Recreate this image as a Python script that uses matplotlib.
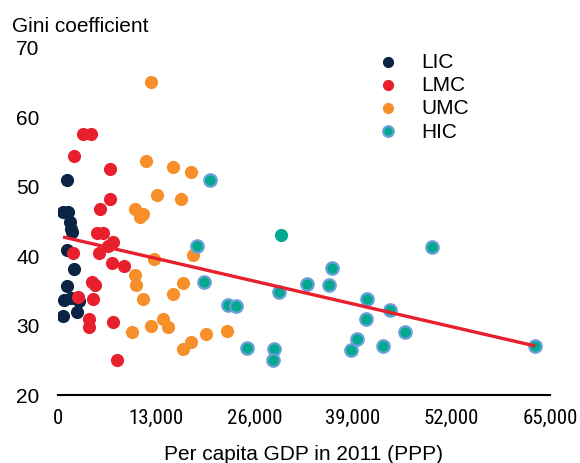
import matplotlib
matplotlib.use("Agg")
import matplotlib.pyplot as plt
from matplotlib import font_manager as fm
import numpy as np

# === DATA ===
lic_gdp = [1290, 730, 1390, 1650, 1780, 1910, 1210, 2180, 1290, 860, 1780, 2880, 2530, 770]
lic_gini = [50.8, 46.3, 46.3, 44.8, 43.8, 43.4, 40.8, 38.1, 35.6, 33.6, 33.9, 33.5, 31.9, 31.3]

lmc_gdp = [3400, 4380, 2180, 6930, 6930, 5610, 5170, 6050, 7360, 6700, 5520, 2090,
           7150, 8780, 4510, 4950, 2750, 4730, 4200, 4200, 7290, 7810]
lmc_gini = [57.5, 57.5, 54.3, 52.4, 48.1, 46.7, 43.2, 43.2, 41.9, 41.3, 40.3, 40.4,
            38.9, 38.5, 36.2, 35.7, 34.0, 33.7, 30.9, 29.7, 30.5, 25.0]

umc_gdp = [12300, 11680, 15200, 17580, 13170, 16300, 10230, 10950, 11350, 17920, 12780,
           10230, 10360, 16600, 15200, 11250, 13960, 14620, 12300, 9830, 19600, 22410,
           17580, 16600]
umc_gini = [65.0, 53.6, 52.7, 52.0, 48.7, 48.2, 46.7, 45.5, 45.9, 40.1, 39.5,
            37.2, 35.8, 36.0, 34.4, 33.8, 30.9, 29.7, 29.8, 29.0, 28.7, 29.1,
            27.5, 26.6]

hic_gdp = [20130, 18410, 19340, 22460, 23600, 25050, 28610, 28480, 29190, 32970,
           35790, 36230, 40810, 40680, 39490, 38780, 43880, 43000, 45900, 49430, 63060]
hic_gini = [50.9, 41.4, 36.2, 32.9, 32.8, 26.7, 26.6, 25.0, 34.8, 35.9,
            35.7, 38.2, 33.8, 30.8, 28.0, 26.4, 32.2, 27.0, 29.0, 41.2, 27.0]
# one high-income point drawn without the blue rim
hic_plain_gdp = [29500]
hic_plain_gini = [42.9]

trend_intercept = 42.85
trend_slope = -2.517e-4

x_ticks = [0, 13000, 26000, 39000, 52000, 65000]
y_ticks = [20, 30, 40, 50, 60, 70]

# === STYLE ===
navy = "#0b2444"
red = "#e8202e"
orange = "#f7902a"
teal = "#00a88f"
rim = "#6a9fd8"
font = "Liberation Sans"

plt.rcParams["font.family"] = [font, "DejaVu Sans"]


def pick_narrow():
    # the x tick labels in the original use a narrow face
    entries = fm.fontManager.ttflist
    names = {f.name for f in entries}
    for n in ["Liberation Sans Narrow", "Arial Narrow", "Roboto Condensed",
              "Open Sans Condensed", "Noto Sans Condensed"]:
        if n in names:
            return dict(family=n)
    for fam in ["Liberation Sans", "Roboto", "Open Sans", "Noto Sans", "DejaVu Sans"]:
        for f in entries:
            if f.name == fam and str(f.stretch) in ("condensed", "semi-condensed",
                                                     "extra-condensed", "75", "87"):
                return dict(family=fam, stretch=f.stretch)
    return None


narrow = pick_narrow()

fig = plt.figure(figsize=(5.8, 4.64), dpi=100)
ax = fig.add_axes([57.5 / 580, 1 - 395.5 / 464, 492.5 / 580, 347.5 / 464])

s = 90
ax.scatter(lic_gdp, lic_gini, s=s, color=navy, lw=0, label="LIC", zorder=3)
ax.scatter(lmc_gdp, lmc_gini, s=s, color=red, lw=0, label="LMC", zorder=3)
ax.scatter(umc_gdp, umc_gini, s=s, color=orange, lw=0, label="UMC", zorder=3)
ax.scatter(hic_gdp, hic_gini, s=80, color=teal, edgecolors=rim, linewidths=1.6,
           label="HIC", zorder=3)
ax.scatter(hic_plain_gdp, hic_plain_gini, s=s, color=teal, lw=0, zorder=3)

all_x = np.array(lic_gdp + lmc_gdp + umc_gdp + hic_gdp + hic_plain_gdp)
xs = np.array([all_x.min(), all_x.max()])
ax.plot(xs, trend_intercept + trend_slope * xs, color=red, lw=2.4, zorder=4,
        solid_capstyle="butt")

ax.set_xlim(0, 65000)
ax.set_ylim(20, 70)
ax.set_xticks(x_ticks)
if narrow:
    ax.set_xticklabels([f"{v:,}" for v in x_ticks], fontsize=15, **narrow)
else:
    ax.set_xticklabels([f"{v:,}" for v in x_ticks], fontsize=13)
ax.set_yticks(y_ticks)
ax.set_yticklabels([str(v) for v in y_ticks], fontsize=15)
ax.tick_params(axis="x", length=0, pad=10)
ax.tick_params(axis="y", length=0, pad=13)

for side in ["top", "right", "left"]:
    ax.spines[side].set_visible(False)
ax.spines["bottom"].set_linewidth(1.5)
ax.spines["bottom"].set_color("black")

fig.text(12 / 580, 1 - 31.7 / 464, "Gini coefficient", fontsize=15, va="baseline", ha="left")
fig.text(303.7 / 580, 1 - 460 / 464, "Per capita GDP in 2011 (PPP)", fontsize=15,
         va="baseline", ha="center")

leg = ax.legend(loc="upper left", bbox_to_anchor=(377.6 / 580, 1 - 53 / 464),
                bbox_transform=fig.transFigure, frameon=False, fontsize=15,
                handlelength=1.0, handletextpad=1.1, labelspacing=0.2,
                borderpad=0, borderaxespad=0, markerscale=0.85)

fig.savefig("out.png", dpi=100)
